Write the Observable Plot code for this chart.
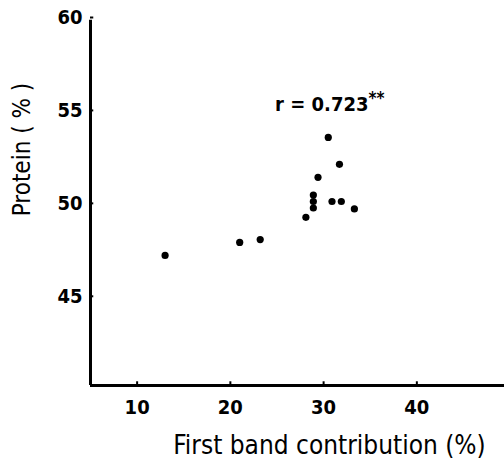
<!DOCTYPE html>
<html><head><meta charset="utf-8">
<script src="https://cdn.jsdelivr.net/npm/d3@7"></script>
<script src="https://cdn.jsdelivr.net/npm/@observablehq/plot@0.6"></script>
<style>body{margin:0;background:#fff;overflow:hidden} svg{display:block}</style>
</head><body><div id="chart"></div>
<script>
const firstBand = [13.0, 21.0, 23.2, 28.1, 28.9, 28.9, 28.9, 29.4, 30.5, 30.9, 31.9, 31.7, 33.3];
const protein   = [47.2, 47.9, 48.05, 49.25, 49.75, 50.1, 50.45, 51.4, 53.55, 50.1, 50.1, 52.1, 49.7];
const xTicks = [10, 20, 30, 40];
const yTicks = [45, 50, 55, 60];
const xDomain = [5, 49.4];
const yDomain = [40.2, 60];
const annotationText = "r = 0.723";
const annotationStars = "**";
const annotationPos = {x: 24.8, y: 55.3};
const xLabel = "First band contribution (%)";
const yLabel = "Protein ( % )";

const data = firstBand.map((x, i) => ({x, y: protein[i]}));
const font = "'Liberation Sans Narrow', 'DejaVu Sans Condensed', 'Liberation Sans', sans-serif";

const chart = Plot.plot({
  width: 504,
  height: 460,
  marginLeft: 90,
  marginRight: 0,
  marginTop: 17,
  marginBottom: 75,
  style: {background: "#fff", color: "#000", fontFamily: font},
  x: {domain: xDomain},
  y: {domain: yDomain},
  marks: [
    Plot.axisX({ticks: xTicks, tickSize: 0, tickPadding: 14, fontSize: 20, fontWeight: "bold", label: null, fontFamily: font}),
    Plot.axisY({ticks: yTicks, tickSize: 0, tickPadding: 8, fontSize: 20, fontWeight: "bold", label: null, fontFamily: font}),
    Plot.ruleX([xDomain[0]], {stroke: "#000", strokeWidth: 3, y1: yDomain[0], y2: 59.85}),
    Plot.ruleY([yDomain[0]], {stroke: "#000", strokeWidth: 3}),
    Plot.ruleY(yTicks, {y: d => d, x1: xDomain[0], x2: xDomain[0] + 0.35, stroke: "#000", strokeWidth: 2}),
    Plot.ruleX(xTicks, {x: d => d, y1: yDomain[0], y2: yDomain[0] + 0.2, stroke: "#000", strokeWidth: 2}),
    Plot.dot(data, {x: "x", y: "y", r: 3.6, fill: "#000", stroke: "none"}),
    Plot.text([annotationText], {x: annotationPos.x, y: annotationPos.y, text: d => d, textAnchor: "start", fontSize: 20, fontWeight: "bold", fontFamily: font, fill: "#000"}),
    Plot.text([xLabel], {text: d => d, frameAnchor: "bottom", textAnchor: "middle", dx: 32, dy: 68, fontSize: 26, fontFamily: font, fill: "#000"}),
    Plot.text([yLabel], {text: d => d, frameAnchor: "left", textAnchor: "middle", rotate: -90, dx: -68, dy: -52, fontSize: 24, fontFamily: font, fill: "#000"})
  ]
});
d3.select(chart).selectAll("text").filter(function() { return this.textContent === annotationText; })
  .append("tspan").attr("dy", "-0.45em").attr("font-size", 17).text(annotationStars);
document.getElementById("chart").append(chart);
</script>
</body></html>
